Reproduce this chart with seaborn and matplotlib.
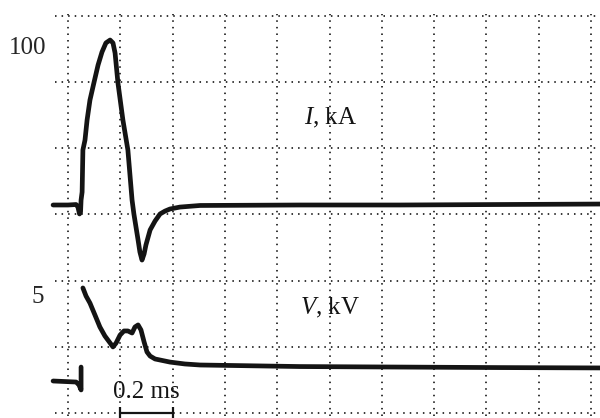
import matplotlib
matplotlib.use("Agg")
import matplotlib.pyplot as plt
import seaborn as sns

# ---- data (time in ms, current in kA, voltage in kV) ----
TIME_I = [-0.057, 0.000, 0.031, 0.038, 0.044, 0.048, 0.050, 0.054, 0.057, 0.065, 0.073,
          0.084, 0.099, 0.115, 0.130, 0.145, 0.161, 0.172, 0.180, 0.191, 0.210,
          0.229, 0.245, 0.252, 0.268, 0.275, 0.283, 0.291, 0.298, 0.314, 0.333,
          0.352, 0.371, 0.390, 0.428, 0.505, 0.887, 1.270, 1.652, 2.034]
CURRENT_KA = [0.0, 0.0, 0.3, -1.3, -5.6, -4.5, 3.1, 8.1, 34.4, 40.6, 53.1,
              65.6, 76.3, 87.5, 95.6, 101.3, 103.1, 101.3, 95.0, 76.3, 53.1,
              34.4, 3.1, -5.6, -21.9, -29.4, -34.4, -30.6, -25.0, -15.6, -10.0,
              -5.6, -3.8, -2.5, -1.3, -0.3, 0.0, 0.0, 0.3, 0.6]

TIME_V_PRE = [-0.057, 0.031, 0.042, 0.050, 0.050]
VOLT_PRE_KV = [0.0, -0.06, -0.23, -0.52, 0.81]

TIME_V = [0.057, 0.069, 0.084, 0.103, 0.122, 0.141, 0.161, 0.172, 0.184, 0.199,
          0.214, 0.229, 0.245, 0.256, 0.268, 0.279, 0.291, 0.302, 0.314, 0.333,
          0.352, 0.390, 0.447, 0.505, 0.887, 1.270, 1.652, 2.034]
VOLT_KV = [5.41, 4.94, 4.53, 3.84, 3.14, 2.62, 2.21, 1.98, 2.21, 2.67,
           2.91, 2.91, 2.79, 3.14, 3.26, 2.97, 2.27, 1.69, 1.45, 1.28,
           1.22, 1.10, 0.99, 0.93, 0.84, 0.81, 0.78, 0.76]

GRID_X_MS = [0.0, 0.2, 0.4, 0.6, 0.8, 1.0, 1.2, 1.4, 1.6, 1.8, 2.0]
GRID_Y_DIV = [0, 1, 2, 3, 4, 5, 6]
I_TICKS = [100]
I_TICK_LABELS = ["100"]
V_TICKS = [5]
V_TICK_LABELS = ["5"]
SCALE_BAR_MS = [0.2, 0.4]
SCALE_LABEL = "0.2 ms"

# ---- style ----
sns.set_theme(style="white")
plt.rcParams["font.family"] = ["Liberation Serif", "DejaVu Serif"]
plt.rcParams["mathtext.fontset"] = "custom"
plt.rcParams["mathtext.rm"] = "Liberation Serif"
plt.rcParams["mathtext.it"] = "Liberation Serif:italic"

INK = "#141414"
FS = 18

fig = plt.figure(figsize=(6, 4.18), dpi=100)
rect = [55 / 600, 2 / 418, 545 / 600, 402 / 418]

# grid axes (ms x divisions)
ax = fig.add_axes(rect, label="grid")
ax.set_xticks(GRID_X_MS)
ax.set_yticks(GRID_Y_DIV)
ax.grid(True, color="black", linewidth=1.1, linestyle=(0, (1, 3.3)))
ax.tick_params(length=0, labelbottom=False, labelleft=False)
for s in ax.spines.values():
    s.set_visible(False)

# current axes
axI = fig.add_axes(rect, label="I", sharex=ax)
axI.patch.set_visible(False)
sns.lineplot(x=TIME_I, y=CURRENT_KA, ax=axI, sort=False, estimator=None,
             color=INK, linewidth=3.4, clip_on=False,
             solid_joinstyle="round", solid_capstyle="round")
axI.set_ylim(-131.875, 119.375)
axI.set_yticks(I_TICKS)
axI.set_yticklabels(I_TICK_LABELS, fontsize=FS)
axI.tick_params(axis="y", length=0, pad=6)
axI.tick_params(axis="x", length=0, labelbottom=False)

# voltage axes
axV = fig.add_axes(rect, label="V", sharex=ax)
axV.patch.set_visible(False)
sns.lineplot(x=TIME_V_PRE, y=VOLT_PRE_KV, ax=axV, sort=False, estimator=None,
             color=INK, linewidth=3.4, clip_on=False,
             solid_joinstyle="round", solid_capstyle="round")
sns.lineplot(x=TIME_V, y=VOLT_KV, ax=axV, sort=False, estimator=None,
             color=INK, linewidth=3.4, clip_on=False,
             solid_joinstyle="round", solid_capstyle="round")
axV.set_ylim(-2.035, 21.337)
axV.set_yticks(V_TICKS)
axV.set_yticklabels(V_TICK_LABELS, fontsize=FS)
axV.tick_params(axis="y", length=0, pad=8)
axV.tick_params(axis="x", length=0, labelbottom=False)

for a in (axI, axV):
    for s in a.spines.values():
        s.set_visible(False)
    a.set_xlabel("")
    a.set_ylabel("")

ax.set_xlim(-0.0497, 2.0344)
ax.set_ylim(-0.0453, 6.030)

# scale bar
ax.plot(SCALE_BAR_MS, [0, 0], color=INK, linewidth=1.6, marker="|",
        markersize=8, markeredgewidth=1.6, clip_on=False)
ax.text(sum(SCALE_BAR_MS) / 2, 0.32, SCALE_LABEL, ha="center", va="center",
        fontsize=FS, color=INK)

# trace labels
ax.text(1.006, 4.46, r"$I$, kA", ha="center", va="center", fontsize=FS, color=INK)
ax.text(1.002, 1.59, r"$V$, kV", ha="center", va="center", fontsize=FS, color=INK)

fig.savefig("out.png", dpi=100, facecolor="white")
